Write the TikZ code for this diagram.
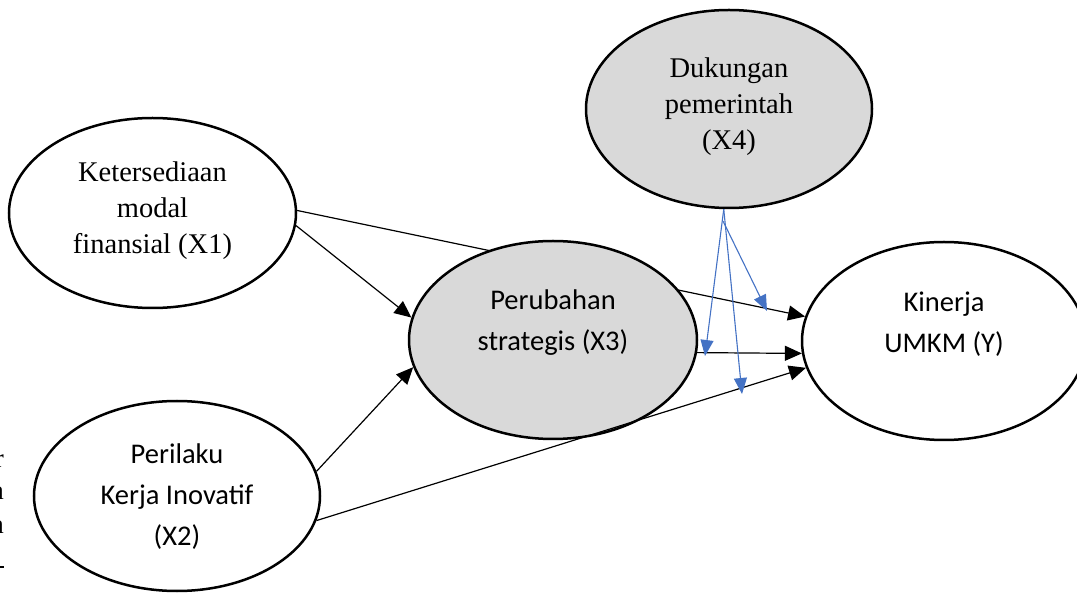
\documentclass[tikz,border=0pt]{standalone}
\usepackage{fontspec}
\setmainfont{Liberation Serif}
\newfontfamily\calfont{Carlito}
\usetikzlibrary{shapes.geometric,arrows.meta}
\pgfdeclarelayer{background}
\pgfsetlayers{background,main}
\definecolor{shade}{HTML}{D9D9D9}
\definecolor{blueline}{HTML}{4472C4}
\tikzset{
  ell/.style={ellipse, draw=black, line width=2.5pt, inner sep=0pt},
  grayell/.style={ell, fill=shade},
  serif/.style={font=\fontsize{28.5}{36}\selectfont, align=center, inner sep=0pt},
  sans/.style={font=\calfont\fontsize{28.5}{41}\selectfont, align=center, inner sep=0pt},
  conn/.style={draw=black, line width=1.2pt, -{Triangle[length=17pt,width=15pt]}},
  bconn/.style={draw=blueline, line width=1.1pt, -{Triangle[length=16pt,width=13pt]}},
}
\begin{document}
\begin{tikzpicture}[x=1pt,y=-1pt]
\useasboundingbox (0,0) rectangle (1077,593);
\begin{scope}
\clip (0,0) rectangle (1077,593);
% ellipses
\node[ell, minimum width=287pt, minimum height=190pt] (X1) at (152.5,213) {};
\node[ell, minimum width=286pt, minimum height=190pt] (X2) at (177,496) {};
\node[grayell, minimum width=288pt, minimum height=198pt] (X3) at (553,340) {};
\node[grayell, minimum width=286pt, minimum height=198pt] (X4) at (729,109) {};
\node[ell, minimum width=284pt, minimum height=198pt] (Y) at (944,341) {};
% texts
\node[serif] (t1) at ([yshift=2pt]X1.center) {Ketersediaan\\modal\\finansial (X1)};
\node[sans] (t2) at ([yshift=-1pt]X2.center) {Perilaku\\Kerja Inovatif\\(X2)};
\node[sans] (t3) at ([yshift=17pt]X3.center) {Perubahan\\strategis (X3)};
\node[serif] (t4) at ([yshift=2pt]X4.center) {Dukungan\\pemerintah\\(X4)};
\node[sans] (tY) at ([yshift=17pt]Y.center) {Kinerja\\UMKM (Y)};
% black connectors
\begin{pgfonlayer}{background}
\draw[conn] (X1.1.2) -- (Y.170.9);
\end{pgfonlayer}
\draw[conn] (X1.-5.6) -- (X3.171.3);
\draw[conn] (X2.10.6) -- (X3.191.1);
\draw[conn] (X2.-10.3) -- (Y.191.4);
\draw[conn] (X3.-5.6) -- (Y.185.2);
% blue connectors
\coordinate (b1) at (705,356);
\coordinate (b2) at (742,394);
\coordinate (b3) at (767,311);
\coordinate (br) at (723,221);
\draw[bconn] (X4.267.5) -- (b1);
\draw[bconn] (X4.267.5) -- (b2);
\draw[bconn] (br) -- (b3);
% clipped fragments at the left edge
\node[font=\fontsize{27}{27}\selectfont, anchor=base east, inner sep=0pt] (f1) at (4,468) {r};
\node[font=\fontsize{27}{27}\selectfont, anchor=base east, inner sep=0pt] (f2) at (4,500) {a};
\node[font=\fontsize{27}{27}\selectfont, anchor=base east, inner sep=0pt] (f3) at (4,533) {n};
\coordinate (f4a) at (0,567);
\coordinate (f4b) at (4,567);
\draw[line width=1.3pt] (f4a) -- (f4b);
\end{scope}
\end{tikzpicture}
\end{document}
